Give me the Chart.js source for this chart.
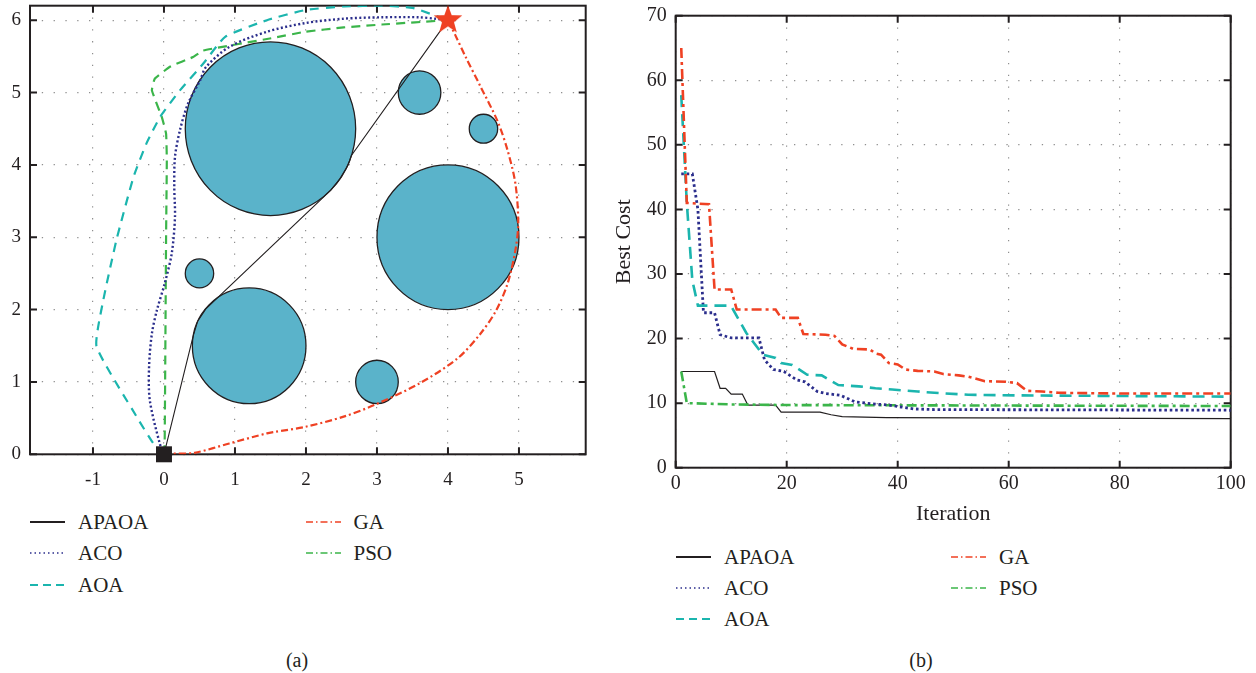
<!DOCTYPE html>
<html>
<head>
<meta charset="utf-8">
<script src="https://cdn.jsdelivr.net/npm/chart.js@4.4.0/dist/chart.umd.min.js"></script>
<style>
  body { margin: 0; width: 1256px; height: 673px; overflow: hidden; background: #fff; position: relative;
         font-family: "Liberation Serif", serif; color: #231f20; }
  canvas { position: absolute; }
  .leg { position: absolute; height: 26px; display: flex; align-items: center; font-size: 21px; white-space: nowrap; }
  .leg svg { margin-right: 13px; }
  .cap { position: absolute; font-size: 20px; transform: translate(-50%, -50%); }
</style>
</head>
<body>
<canvas id="pathChart" width="620" height="530" style="left:0;top:-30px"></canvas>
<canvas id="costChart" width="656" height="560" style="left:600px;top:-30px"></canvas>
<div class="cap" style="left:297px;top:660px">(a)</div>
<div class="cap" style="left:921px;top:660px">(b)</div>
<script>
const INK = '#231f20';

// series
const names = ['APAOA', 'ACO', 'AOA', 'GA', 'PSO'];
const colors = [INK, '#2b2e8c', '#1bb5ae', '#ef4123', '#3bb54a'];

// obstacles (a)
const obstacleX = [1.5, 4, 1.2, 3.6, 4.5, 0.5, 3];
const obstacleY = [4.5, 3, 1.5, 5, 4.5, 2.5, 1];
const obstacleR = [1.2, 1.0, 0.8, 0.3, 0.2, 0.2, 0.3];
const startPoint = [0, 0];
const goalPoint = [4, 6];

// paths (a)
const apaoaX = [0, 0.41, 0.475, 0.59, 2.35, 2.48, 2.59, 2.64, 4];
const apaoaY = [0, 1.63, 1.84, 2.01, 3.65, 3.81, 3.99, 4.13, 6];
const acoX = [0, -0.06, -0.2, -0.21, -0.17, -0.1, 0.01, 0.11, 0.155, 0.145, 0.155, 0.225, 0.34, 0.51, 0.59, 0.92, 1.45, 1.99, 2.53, 3.07, 3.6, 3.82, 4];
const acoY = [0, 0.15, 0.75, 1.21, 1.67, 1.99, 2.36, 2.78, 3.28, 3.70, 4.11, 4.48, 4.85, 5.17, 5.35, 5.63, 5.84, 5.96, 6.02, 6.04, 6.04, 6.02, 6];
const aoaX = [0, -0.15, -0.385, -0.95, -0.855, -0.67, -0.43, -0.245, -0.056, 0.225, 0.554, 0.862, 1.45, 1.99, 2.53, 3.07, 3.5, 4];
const aoaY = [0, 0.15, 0.52, 1.49, 2.13, 2.96, 3.83, 4.30, 4.66, 5.03, 5.40, 5.77, 6.0, 6.14, 6.19, 6.2, 6.17, 6];
const gaX = [0, 0.11, 0.43, 0.92, 1.45, 1.56, 1.99, 2.53, 2.96, 3.6, 4.14, 4.46, 4.68, 4.84, 4.95, 4.99, 4.95, 4.84, 4.7, 4.46, 4.25, 4.1, 4];
const gaY = [0, 0.01, 0.02, 0.15, 0.29, 0.31, 0.38, 0.52, 0.68, 0.98, 1.33, 1.67, 1.99, 2.36, 2.82, 3.2, 3.74, 4.2, 4.6, 5.08, 5.49, 5.8, 6];
const psoX = [0, 0.01, 0.03, 0.04, 0.03, -0.03, -0.17, -0.13, 0.09, 0.41, 0.55, 1.51, 1.99, 2.53, 3.07, 4];
const psoY = [0, 0.15, 3.05, 4.06, 4.43, 4.66, 5.03, 5.19, 5.36, 5.49, 5.58, 5.75, 5.84, 5.90, 5.94, 6];

// convergence (b): iteration / best cost at the change points
const apaoaIt = [1, 7, 8, 9, 10, 12, 13, 18, 19, 26, 28, 30, 38, 100];
const apaoaCost = [14.9, 14.9, 12.3, 12.3, 11.4, 11.4, 9.7, 9.7, 8.6, 8.6, 8.2, 7.9, 7.75, 7.6];
const acoIt = [1, 3, 4, 5, 7, 8, 10, 15, 16, 17.6, 19.5, 21.8, 23.3, 25.5, 27, 29.7, 32.3, 35.3, 38.4, 40.6, 42.9, 46.6, 100];
const acoCost = [45.5, 45.5, 40, 24, 24, 20.6, 20.1, 20.1, 16.7, 15.2, 14.9, 13.6, 13.3, 11.8, 11.5, 11.2, 10.2, 9.9, 9.7, 9.4, 9.1, 9.0, 8.9];
const aoaIt = [1, 2, 3, 4, 9.5, 10, 12.7, 15.7, 18, 19, 21, 23.7, 26.3, 29.3, 33, 36, 39, 43.6, 46.6, 52.7, 61.7, 100];
const aoaCost = [57.7, 41, 29, 25.1, 25.1, 25, 20.9, 17.5, 17, 16.2, 15.9, 14.4, 14.3, 12.8, 12.6, 12.3, 12.1, 11.8, 11.6, 11.3, 11.2, 11.0];
const gaIt = [1, 2, 6, 7, 10, 11, 18, 19, 22, 23, 27, 28.6, 30, 32, 35, 36, 37, 38.4, 40, 41.4, 43.6, 46.6, 48.2, 51, 52.7, 55.7, 59.5, 61.5, 63.3, 66, 69, 78.5, 100];
const gaCost = [65, 41, 40.8, 27.6, 27.6, 24.5, 24.5, 23.2, 23.2, 20.7, 20.6, 20.4, 19.1, 18.4, 18.3, 17.7, 17.5, 16.2, 16.0, 15.2, 15.0, 14.9, 14.5, 14.3, 14.1, 13.4, 13.3, 13.1, 11.9, 11.8, 11.6, 11.5, 11.5];
const psoIt = [1, 2, 10, 20, 100];
const psoCost = [14.9, 10.0, 9.8, 9.7, 9.55];

Chart.defaults.font.family = '"Liberation Serif", serif';
Chart.defaults.color = INK;

function pts(xs, ys) {
    return xs.map((v, i) => ({ x: v, y: ys[i] }));
}

function lineSet(i, xs, ys, dash, width, tension) {
    return {
        label: names[i],
        data: pts(xs, ys),
        showLine: true,
        borderColor: colors[i],
        borderDash: dash,
        borderWidth: width,
        pointRadius: 0,
        tension: tension,
        fill: false
    };
}

// circles drawn in data units through the scales
const obstaclePlugin = {
    id: 'obstacles',
    beforeDatasetsDraw(chart) {
        const { ctx, chartArea: a, scales: { x, y } } = chart;
        ctx.save();
        ctx.beginPath();
        ctx.rect(a.left, a.top, a.right - a.left, a.bottom - a.top);
        ctx.clip();
        for (let i = 0; i < obstacleX.length; i++) {
            const cx = x.getPixelForValue(obstacleX[i]);
            const cy = y.getPixelForValue(obstacleY[i]);
            const rx = Math.abs(x.getPixelForValue(obstacleX[i] + obstacleR[i]) - cx);
            const ry = Math.abs(y.getPixelForValue(obstacleY[i] + obstacleR[i]) - cy);
            ctx.beginPath();
            ctx.ellipse(cx, cy, rx, ry, 0, 0, Math.PI * 2);
            ctx.fillStyle = '#5ab3ca';
            ctx.fill();
            ctx.lineWidth = 1.3;
            ctx.strokeStyle = INK;
            ctx.stroke();
        }
        ctx.restore();
    }
};

// box frame with inward ticks on all four sides
const framePlugin = {
    id: 'frame',
    beforeDatasetsDraw(chart) {
        const { ctx, chartArea: a, scales: { x, y } } = chart;
        const L = 7;
        ctx.save();
        ctx.strokeStyle = INK;
        ctx.lineWidth = 2;
        ctx.strokeRect(a.left, a.top, a.right - a.left, a.bottom - a.top);
        ctx.beginPath();
        x.ticks.forEach(t => {
            const p = x.getPixelForValue(t.value);
            ctx.moveTo(p, a.bottom); ctx.lineTo(p, a.bottom - L);
            ctx.moveTo(p, a.top); ctx.lineTo(p, a.top + L);
        });
        y.ticks.forEach(t => {
            const p = y.getPixelForValue(t.value);
            ctx.moveTo(a.left, p); ctx.lineTo(a.left + L, p);
            ctx.moveTo(a.right, p); ctx.lineTo(a.right - L, p);
        });
        ctx.stroke();
        ctx.restore();
    }
};

function makeStar(size, color) {
    const c = document.createElement('canvas');
    c.width = size; c.height = size;
    const g = c.getContext('2d');
    const R = size / 2, r = R * 0.42;
    g.beginPath();
    for (let i = 0; i < 10; i++) {
        const ang = -Math.PI / 2 + i * Math.PI / 5;
        const rad = i % 2 ? r : R;
        g.lineTo(R + rad * Math.cos(ang), R + rad * Math.sin(ang));
    }
    g.closePath();
    g.fillStyle = color;
    g.fill();
    return c;
}

function axis(min, max, step, size, pad, fit) {
    return {
        type: 'linear', min: min, max: max,
        ticks: { stepSize: step, includeBounds: false, padding: pad, font: { size: size }, color: INK },
        grid: { color: '#8f8f8f', lineWidth: 1.2, drawTicks: false },
        border: { display: false, dash: [1.3, 10.5] },
        afterFit: fit
    };
}

const pathSets = [
    { label: 'start', data: [{ x: startPoint[0], y: startPoint[1] }], pointStyle: 'rect', pointRadius: 11.3,
      backgroundColor: INK, borderWidth: 0, clip: false, order: 0 },
    { label: 'goal', data: [{ x: goalPoint[0], y: goalPoint[1] }], pointStyle: makeStar(30, '#ef4123'),
      pointRadius: 15, clip: false, order: 0 },
    Object.assign(lineSet(0, apaoaX, apaoaY, [], 1.1, 0), { order: 1 }),
    Object.assign(lineSet(1, acoX, acoY, [2, 2.4], 2.4, 0.3), { order: 2 }),
    Object.assign(lineSet(2, aoaX, aoaY, [9, 7], 2.2, 0.15), { order: 3 }),
    Object.assign(lineSet(3, gaX, gaY, [7, 3, 2, 3], 2.2, 0.3), { order: 4 }),
    Object.assign(lineSet(4, psoX, psoY, [9, 6], 2.2, 0.1), { order: 5 })
];

new Chart(document.getElementById('pathChart'), {
    type: 'scatter',
    data: { datasets: pathSets },
    options: {
        responsive: false,
        animation: false,
        layout: { padding: { top: 35.7, right: 34.3, left: 0, bottom: 0 } },
        plugins: { legend: { display: false }, tooltip: { enabled: false } },
        scales: {
            x: axis(-1.887, 5.94, 1, 19, 14.3, s => { s.height = 45.7; }),
            y: axis(0, 6.2, 1, 19, 9, s => { s.width = 30; })
        }
    },
    plugins: [obstaclePlugin, framePlugin]
});

const costSets = [
    Object.assign(lineSet(3, gaIt, gaCost, [10, 4, 3, 4], 2.6, 0), { order: 1 }),
    Object.assign(lineSet(2, aoaIt, aoaCost, [12, 7], 2.6, 0), { order: 2 }),
    Object.assign(lineSet(1, acoIt, acoCost, [2.6, 2.8], 2.8, 0), { order: 3 }),
    Object.assign(lineSet(4, psoIt, psoCost, [10, 4, 3, 4], 2.6, 0), { order: 4 }),
    Object.assign(lineSet(0, apaoaIt, apaoaCost, [], 1.2, 0), { order: 5 })
];

const xCost = axis(0, 100, 20, 20, 3.6, s => { s.height = 62.3; });
xCost.title = { display: true, text: 'Iteration', font: { size: 22, lineHeight: 1.2 }, color: INK, padding: { top: 0, bottom: 2.8 } };
const yCost = axis(0, 70, 10, 20, 9, s => { s.width = 75.7; });
yCost.title = { display: true, text: 'Best Cost', font: { size: 22, lineHeight: 1.2 }, color: INK, padding: { top: 10.8, bottom: 0 } };

new Chart(document.getElementById('costChart'), {
    type: 'scatter',
    data: { datasets: costSets },
    options: {
        responsive: false,
        animation: false,
        layout: { padding: { top: 45.7, right: 25.3, left: 0, bottom: 0 } },
        plugins: { legend: { display: false }, tooltip: { enabled: false } },
        scales: { x: xCost, y: yCost }
    },
    plugins: [framePlugin]
});

// legends, two columns under each panel
const legendDash = ['', '1.5 3', '8 5', '7 3 1.5 3', '7 3 1.5 3'];
const legendWidth = [2, 1.6, 2, 1.6, 1.6];

function addLegend(colX, rowY) {
    names.forEach((n, i) => {
        const col = i < 3 ? 0 : 1;
        const row = i < 3 ? i : i - 3;
        const item = document.createElement('div');
        item.setAttribute('class', 'leg');
        item.style.left = colX[col] + 'px';
        item.style.top = (rowY[row] - 13) + 'px';
        item.innerHTML = `<svg width="35" height="6"><line x1="0" y1="3" x2="35" y2="3" stroke="${colors[i]}"
            stroke-width="${legendWidth[i]}" stroke-dasharray="${legendDash[i]}"/></svg><span>${n}</span>`;
        document.body.appendChild(item);
    });
}

addLegend([30, 305.5], [522, 553, 585]);
addLegend([676, 951], [557, 588, 619]);
</script>
</body>
</html>
